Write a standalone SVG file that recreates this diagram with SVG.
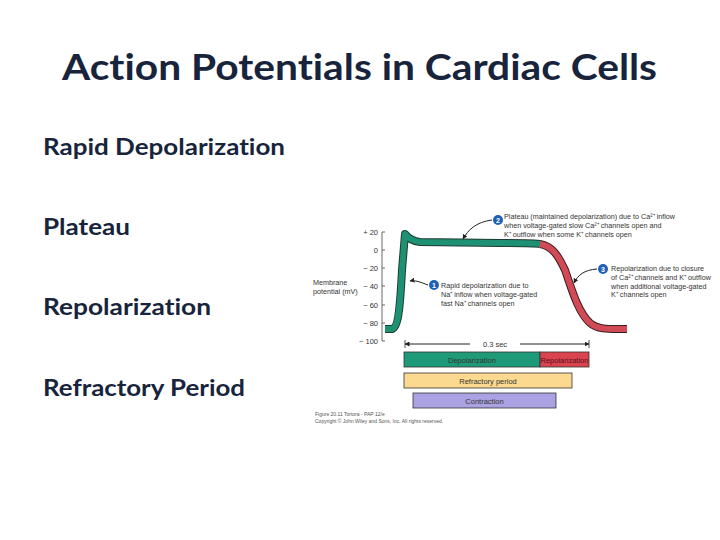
<svg xmlns="http://www.w3.org/2000/svg" width="720" height="540" viewBox="0 0 720 540">
<defs>
<style>
.title{font-family:Lato,"Open Sans",sans-serif;font-weight:bold;font-size:37px;fill:#17243c;font-variant-ligatures:none;font-feature-settings:"liga" 0,"dlig" 0}
.item{font-family:Lato,"Open Sans",sans-serif;font-weight:bold;font-size:23.5px;fill:#17243c;font-variant-ligatures:none;font-feature-settings:"liga" 0,"dlig" 0}
.fig{font-family:"Liberation Sans",Arial,sans-serif;fill:#333;font-size:7.2px}
.ax{font-family:"Liberation Sans",Arial,sans-serif;fill:#333;font-size:7.5px;text-anchor:end}
.bar{font-family:"Liberation Sans",Arial,sans-serif;fill:#333;font-size:7.5px;text-anchor:middle}
.num{font-family:"Liberation Sans",Arial,sans-serif;fill:#fff;font-size:7px;font-weight:bold;text-anchor:middle}
.cap{font-family:"Liberation Sans",Arial,sans-serif;fill:#555;font-size:5px}
.lead{fill:none;stroke:#222;stroke-width:1}
.badge{fill:#1f5fb5}
</style>
<marker id="ah" viewBox="0 0 10 10" refX="9" refY="5" markerWidth="5" markerHeight="5" orient="auto-start-reverse">
<path d="M0,0 L10,5 L0,10 z" fill="#222"/>
</marker>
</defs>
<rect width="720" height="540" fill="#fff"/>
<text class="title" x="62" y="80" textLength="595" lengthAdjust="spacingAndGlyphs">Action Potentials in Cardiac Cells</text>
<g id="list">
<text class="item" x="43" y="155" textLength="242" lengthAdjust="spacingAndGlyphs">Rapid Depolarization</text>
<text class="item" x="43" y="235" textLength="87" lengthAdjust="spacingAndGlyphs">Plateau</text>
<text class="item" x="43" y="315" textLength="168" lengthAdjust="spacingAndGlyphs">Repolarization</text>
<text class="item" x="43" y="396" textLength="202" lengthAdjust="spacingAndGlyphs">Refractory Period</text>
</g>
<g id="axis">
<path d="M385,232 H382 V341 H385 M382,250 H385 M382,268 H385 M382,286 H385 M382,305 H385 M382,323 H385" fill="none" stroke="#444" stroke-width="0.8"/>
<text class="ax" x="378" y="235">+ 20</text>
<text class="ax" x="378" y="253">0</text>
<text class="ax" x="378" y="271">− 20</text>
<text class="ax" x="378" y="289">− 40</text>
<text class="ax" x="378" y="308">− 60</text>
<text class="ax" x="378" y="326">− 80</text>
<text class="ax" x="378" y="344">− 100</text>
<text class="fig" x="313" y="285">Membrane</text>
<text class="fig" x="313" y="294">potential (mV)</text>
</g>
<g id="curve">
<path d="M385,329 L392,329 C398,328 400,310 402,270 L405,234 C408,238 412,241 420,242 L500,243 C525,243 536,243 540,244" fill="none" stroke="#1c3d33" stroke-width="8" stroke-linejoin="round"/>
<path d="M540,244 C552,246 558,255 565,270 C572,290 578,312 590,323 C598,330 610,329 627,329" fill="none" stroke="#3a1c20" stroke-width="8" stroke-linejoin="round"/>
<path d="M385,329 L392,329 C398,328 400,310 402,270 L405,234 C408,238 412,241 420,242 L500,243 C525,243 536,243 540,244" fill="none" stroke="#1f9173" stroke-width="6" stroke-linejoin="round"/>
<path d="M540,244 C552,246 558,255 565,270 C572,290 578,312 590,323 C598,330 610,329 627,329" fill="none" stroke="#d24a55" stroke-width="6" stroke-linejoin="round"/>
</g>
<g id="connectors">
<path class="lead" d="M428,285 C420,282 415,280 410,281" marker-end="url(#ah)"/>
<path class="lead" d="M492,220 C476,222 468,230 463,239" marker-end="url(#ah)"/>
<path class="lead" d="M597,269 C584,270 578,275 574,283" marker-end="url(#ah)"/>
<path class="lead" d="M405,344 H470 M520,344 H589" marker-start="url(#ah)" marker-end="url(#ah)"/>
<path d="M405,340 V348 M589,340 V348" stroke="#222" stroke-width="0.8"/>
</g>
<g id="note1">
<circle class="badge" cx="434" cy="285" r="5"/>
<text class="num" x="434" y="287.5">1</text>
<text class="fig" x="441" y="288">Rapid depolarization due to</text>
<text class="fig" x="441" y="297">Na⁺ inflow when voltage-gated</text>
<text class="fig" x="441" y="306">fast Na⁺ channels open</text>
</g>
<g id="note2">
<circle class="badge" cx="498" cy="220" r="5"/>
<text class="num" x="498" y="222.5">2</text>
<text class="fig" x="504" y="219">Plateau (maintained depolarization) due to Ca²⁺ inflow</text>
<text class="fig" x="504" y="228">when voltage-gated slow Ca²⁺ channels open and</text>
<text class="fig" x="504" y="237">K⁺ outflow when some K⁺ channels open</text>
</g>
<g id="note3">
<circle class="badge" cx="603" cy="269" r="5"/>
<text class="num" x="603" y="271.5">3</text>
<text class="fig" x="611" y="271">Repolarization due to closure</text>
<text class="fig" x="611" y="280">of Ca²⁺ channels and K⁺ outflow</text>
<text class="fig" x="611" y="289">when additional voltage-gated</text>
<text class="fig" x="611" y="297">K⁺ channels open</text>
</g>
<text class="bar" x="495" y="347">0.3 sec</text>
<g id="bar-depol">
<rect x="404" y="352" width="136" height="15" fill="#1f9a78" stroke="#333" stroke-width="0.8"/>
<text class="bar" x="472" y="362.5">Depolarization</text>
</g>
<g id="bar-repol">
<rect x="540" y="352" width="49" height="15" fill="#d9444f" stroke="#333" stroke-width="0.8"/>
<text class="bar" x="564.5" y="362.5" style="fill:#5a1018">Repolarization</text>
</g>
<g id="bar-refractory">
<rect x="404" y="373" width="168" height="15" fill="#fbd98f" stroke="#333" stroke-width="0.8"/>
<text class="bar" x="488" y="383.5">Refractory period</text>
</g>
<g id="bar-contraction">
<rect x="413" y="393" width="143" height="15" fill="#aaa2e2" stroke="#333" stroke-width="0.8"/>
<text class="bar" x="484.5" y="403.5">Contraction</text>
</g>
<g id="caption">
<text class="cap" x="315" y="416">Figure 20.11  Tortora - PAP 12/e</text>
<text class="cap" x="315" y="423">Copyright © John Wiley and Sons, Inc. All rights reserved.</text>
</g>
</svg>
